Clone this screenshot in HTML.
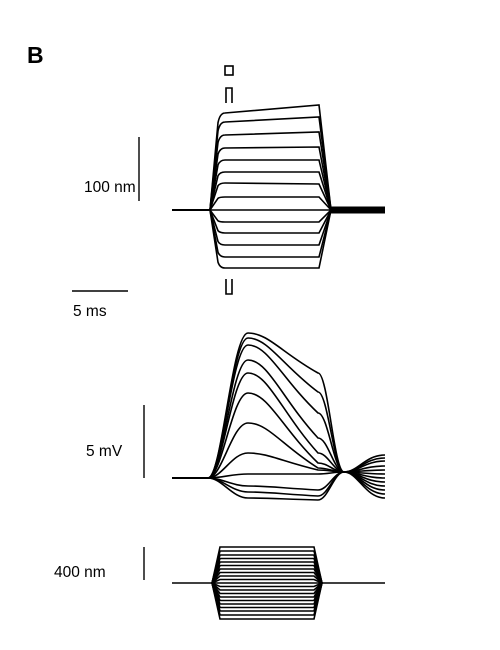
<!DOCTYPE html>
<html><head><meta charset="utf-8"><style>
html,body{margin:0;padding:0;background:#fff;}
svg{display:block;font-family:"Liberation Sans",sans-serif;}
</style></head><body>
<svg id="fig" width="500" height="650" viewBox="0 0 500 650">
<text x="27" y="63" font-size="23" font-weight="bold">B</text>
<rect x="225" y="66" width="8" height="9" fill="none" stroke="#000" stroke-width="1.6"/>
<path d="M226,103 V88 H232 V103" fill="none" stroke="#000" stroke-width="1.6"/>
<path d="M226,279 V294 H232 V279" fill="none" stroke="#000" stroke-width="1.6"/>
<line x1="139" y1="137" x2="139" y2="201" stroke="#000" stroke-width="1.4"/>
<text x="84" y="192" font-size="15.5">100 nm</text>
<line x1="72" y1="291" x2="128" y2="291" stroke="#000" stroke-width="1.4"/>
<text x="73" y="316" font-size="15.5">5 ms</text>
<line x1="144" y1="405" x2="144" y2="478" stroke="#000" stroke-width="1.4"/>
<text x="86" y="456" font-size="15.5">5 mV</text>
<line x1="144" y1="547" x2="144" y2="580" stroke="#000" stroke-width="1.4"/>
<text x="54" y="577" font-size="15.5">400 nm</text>
<g id="top"></g>
<g id="mid"></g>
<g id="bot"></g>
</svg>
<script>
// top panel: plateau levels (px offset from baseline, up positive) at start and end
const topStart = [97, 88, 75, 62, 50, 38, 27, 13, 0, -12, -23, -35, -47, -58];
const topEnd   = [105, 93, 78, 63, 50, 38, 26, 13, 0, -12, -23, -35, -47, -58];
// middle panel: peak, shoulder (at stimulus end), end value (px, up positive)
const midPeak     = [145, 140, 133, 118, 105, 85, 55, 25, 4, -8, -14, -20];
const midShoulder = [105, 86, 65, 40, 25, 15, 10, 8, 4, -12, -18, -22];
const midEnd      = [23, 20, 17, 12, 8, 4, 0, -4, -8, -12, -16, -20];
// bottom panel: bundle displacement levels
const botLevels = [36, 32, 28, 24.5, 21, 17.5, 14, 10.5, 7, 3.5, 0, -3.5, -7, -10.5, -14, -17.5, -21, -24.5, -28, -32, -36];
const NS = "http://www.w3.org/2000/svg";
function mk(g, d, w){
  const p = document.createElementNS(NS, "path");
  p.setAttribute("d", d);
  p.setAttribute("fill", "none");
  p.setAttribute("stroke", "#000");
  p.setAttribute("stroke-width", w);
  
  
  g.appendChild(p);
}
const gTop = document.getElementById("top");
const yT = v => 210 - v;
topStart.forEach((s, i) => {
  const e = topEnd[i];
  mk(gTop, `M172,210 L210,210 L218,${yT(s*0.9)} Q220,${yT(s)} 225,${yT(s)} L319,${yT(e)} L331,210 L385,210`, 1.6);
});
mk(gTop, "M331,210 L385,210", 7);
const gMid = document.getElementById("mid");
const yM = v => 478 - v;
midPeak.forEach((p, i) => {
  const s = midShoulder[i], e = midEnd[i];
  mk(gMid, `M172,478 L208,478 C222,478 232,${yM(p)} 248,${yM(p)} C268,${yM(p)} 282,${yM(s+(p-s)*0.5)} 318,${yM(s)} C328,${yM(s)} 334,472 344,472 C358,472 365,${yM(e)} 385,${yM(e)}`, 1.6);
});
const gBot = document.getElementById("bot");
const yB = v => 583 - v;
botLevels.forEach(l => {
  mk(gBot, `M212,583 L220,${yB(l)} L314,${yB(l)} L322,583`, 1.6);
});
mk(gBot, "M172,583 L212,583 M322,583 L385,583", 1.6);
</script>
</body></html>
